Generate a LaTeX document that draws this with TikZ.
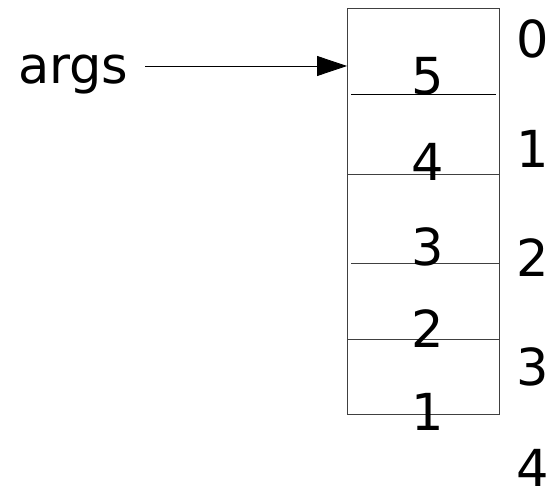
\documentclass[tikz,border=0pt]{standalone}
\usepackage{fontspec}
\setmainfont{DejaVu Sans}
\usetikzlibrary{arrows.meta}
\begin{document}
\begin{tikzpicture}[x=1pt,y=-1pt,
  lbl/.style={font=\fontsize{51}{51}\selectfont, inner sep=0pt, anchor=base},
  cellline/.style={draw=black!75, line width=0.9pt},
  arr/.style={line width=0.8pt, -{Triangle[length=30pt,width=20pt]}}]
\useasboundingbox (0,0) rectangle (551,492);
\node[draw=black!75, line width=0.9pt, minimum width=152pt, minimum height=406pt, inner sep=0pt, anchor=north west] (box) at (347,8) {};
\draw[cellline, draw=black] (351,94) -- (496,94);
\draw[cellline] (box.west |- 0,174) -- (box.east |- 0,174);
\draw[cellline] (351,263) -- (499,263);
\draw[cellline] (box.west |- 0,339) -- (box.east |- 0,339);
\node[lbl] (v5) at (428,95) {5};
\node[lbl] (v4) at (428,180) {4};
\node[lbl] (v3) at (428,265) {3};
\node[lbl] (v2) at (428,347) {2};
\node[lbl] (v1) at (428,430) {1};
\node[lbl] (i0) at (533,58) {0};
\node[lbl] (i1) at (533,167) {1};
\node[lbl] (i2) at (533,276) {2};
\node[lbl] (i3) at (533,385) {3};
\node[lbl, text depth=0pt] (i4) at (533,486) {4};
\node[lbl, anchor=base west] (args) at (18,84) {args};
\coordinate (astart) at (145,66);
\draw[arr] (astart) -- (box.west |- astart);
\end{tikzpicture}
\end{document}
